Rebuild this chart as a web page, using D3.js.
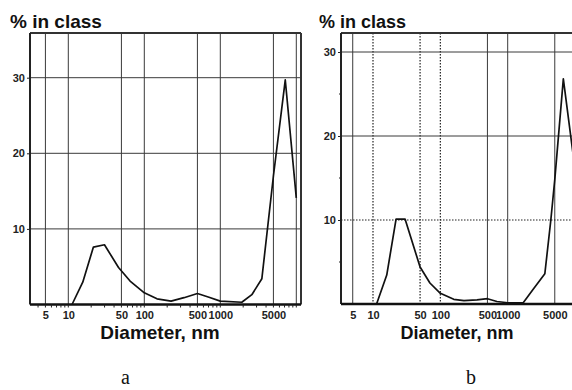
<!DOCTYPE html>
<html>
<head>
<meta charset="utf-8">
<script src="https://cdn.jsdelivr.net/npm/d3@7"></script>
<style>
  body { margin: 0; background: #fff; }
  svg { display: block; }
  .tick text { font-family: "Liberation Sans", Arial, sans-serif; font-weight: bold; font-size: 11px; fill: #222; }
</style>
</head>
<body>
<div id="chart"></div>
<script>
// particle size distributions, two samples (a, b)
const sizesA = [11.2, 15.5, 21.4, 29.9, 45.8, 65, 100, 147, 225, 333, 500, 694, 1000, 1920, 2600, 3520, 5000, 7160, 10000];
const pctA = [0, 2.95, 7.6, 7.9, 4.9, 3.1, 1.55, 0.75, 0.45, 0.9, 1.45, 1.0, 0.45, 0.3, 1.3, 3.4, 17, 29.7, 14.1];

const sizesB = [11.3, 16, 22, 30, 50, 70, 100, 158, 224, 350, 500, 692, 1000, 1700, 2390, 3560, 4370, 5000, 6700, 10000];
const pctB = [0, 3.45, 10.1, 10.1, 4.4, 2.5, 1.27, 0.56, 0.4, 0.5, 0.63, 0.3, 0.15, 0.15, 1.75, 3.6, 10, 14.8, 26.8, 16];

const xTickLabels = [5, 10, 50, 100, 500, 1000, 5000];
const yTickLabels = [10, 20, 30];
const panelNames = ['a', 'b'];

const width = 572, height = 390;

const svg = d3.select('#chart').append('svg')
  .attr('width', width)
  .attr('height', height);

const panels = [
  {
    name: panelNames[0], sizes: sizesA, pct: pctA,
    box: { left: 30, right: 301, top: 33, bottom: 304.5 },
    xr: [68.3, 220.3], yr: [304.5, 77.7],
    solidX: [5, 10, 50, 100, 500, 1000, 5000, 10000], dottedX: [],
    solidY: [10, 20, 30], dottedY: [],
    minorX: true, minorY: [],
    titleX: 10, titleSize: 19, xlabX: 160, xlabSize: 19
  },
  {
    name: panelNames[1], sizes: sizesB, pct: pctB,
    box: { left: 341, right: 600, top: 33, bottom: 304 },
    xr: [373, 507.7], yr: [304, 52],
    solidX: [5, 500, 1000, 5000], dottedX: [10, 50, 100],
    solidY: [20, 30], dottedY: [10],
    minorX: false, minorY: [5, 15, 25],
    titleX: 319, titleSize: 18, xlabX: 457, xlabSize: 18
  }
];

panels.forEach((p, i) => {
  const g = svg.append('g');
  const b = p.box;

  const x = d3.scaleLog().domain([10, 1000]).range(p.xr);
  const y = d3.scaleLinear().domain([0, 30]).range(p.yr);

  const clipId = 'clip' + i;
  g.append('clipPath').attr('id', clipId)
    .append('rect')
    .attr('x', b.left).attr('y', b.top)
    .attr('width', b.right - b.left).attr('height', b.bottom - b.top);

  // grid
  g.selectAll('.vs').data(p.solidX).enter().append('line')
    .attr('x1', d => x(d)).attr('x2', d => x(d))
    .attr('y1', b.top).attr('y2', b.bottom)
    .attr('stroke', '#3a3a3a').attr('stroke-width', 1);
  g.selectAll('.vd').data(p.dottedX).enter().append('line')
    .attr('x1', d => x(d)).attr('x2', d => x(d))
    .attr('y1', b.top).attr('y2', b.bottom)
    .attr('stroke', '#222').attr('stroke-width', 1.2)
    .attr('stroke-dasharray', '1.5,1.5');
  g.selectAll('.hs').data(p.solidY).enter().append('line')
    .attr('x1', b.left).attr('x2', b.right)
    .attr('y1', d => y(d)).attr('y2', d => y(d))
    .attr('stroke', '#3a3a3a').attr('stroke-width', 1);
  g.selectAll('.hd').data(p.dottedY).enter().append('line')
    .attr('x1', b.left).attr('x2', b.right)
    .attr('y1', d => y(d)).attr('y2', d => y(d))
    .attr('stroke', '#222').attr('stroke-width', 1.2)
    .attr('stroke-dasharray', '1.5,1.5');

  // frame
  g.append('line').attr('x1', b.left).attr('x2', b.right).attr('y1', b.top).attr('y2', b.top)
    .attr('stroke', '#333').attr('stroke-width', 2);
  g.append('line').attr('x1', b.left).attr('x2', b.left).attr('y1', b.top).attr('y2', b.bottom)
    .attr('stroke', '#222').attr('stroke-width', 2);
  g.append('line').attr('x1', b.right).attr('x2', b.right).attr('y1', b.top).attr('y2', b.bottom)
    .attr('stroke', '#333').attr('stroke-width', 2);

  // distribution line
  const line = d3.line()
    .x((d, k) => x(p.sizes[k]))
    .y(d => y(d));
  g.append('path')
    .datum(p.pct)
    .attr('clip-path', `url(#${clipId})`)
    .attr('fill', 'none')
    .attr('stroke', '#111')
    .attr('stroke-width', 1.7)
    .attr('stroke-linejoin', 'round')
    .attr('d', line);

  // bottom axis line
  g.append('line').attr('x1', b.left).attr('x2', b.right).attr('y1', b.bottom).attr('y2', b.bottom)
    .attr('stroke', '#111').attr('stroke-width', 2.4);

  // minor log ticks below axis
  if (p.minorX) {
    const lo = x.invert(b.left), hi = x.invert(b.right);
    const minor = [];
    for (let e = 0; e <= 4; e++) {
      for (let m = 1; m <= 9; m++) {
        const v = m * Math.pow(10, e);
        if (v >= lo && v <= hi) minor.push(v);
      }
    }
    g.selectAll('.mt').data(minor).enter().append('line')
      .attr('x1', d => x(d)).attr('x2', d => x(d))
      .attr('y1', b.bottom).attr('y2', b.bottom + 3)
      .attr('stroke', '#222').attr('stroke-width', 1);
  }

  // minor y ticks
  g.selectAll('.my').data(p.minorY).enter().append('line')
    .attr('x1', b.left - 2).attr('x2', b.left + 1)
    .attr('y1', d => y(d)).attr('y2', d => y(d))
    .attr('stroke', '#222').attr('stroke-width', 1);

  // x tick labels
  const xAxis = g.append('g')
    .attr('transform', `translate(0,${b.bottom})`)
    .call(d3.axisBottom(x).tickValues(xTickLabels).tickFormat(d3.format('d')).tickSize(0).tickPadding(7));
  xAxis.select('.domain').remove();

  // y tick labels
  const yAxis = g.append('g')
    .attr('transform', `translate(${b.left},0)`)
    .call(d3.axisLeft(y).tickValues(yTickLabels).tickSize(3).tickPadding(2));
  yAxis.select('.domain').remove();
  yAxis.selectAll('.tick line').attr('stroke', '#222');

  // titles
  g.append('text')
    .attr('x', p.titleX).attr('y', 28)
    .attr('font-family', '"Liberation Sans", Arial, sans-serif')
    .attr('font-weight', 'bold')
    .attr('font-size', p.titleSize)
    .attr('fill', '#111')
    .text('% in class');

  g.append('text')
    .attr('x', p.xlabX).attr('y', 339)
    .attr('text-anchor', 'middle')
    .attr('font-family', '"Liberation Sans", Arial, sans-serif')
    .attr('font-weight', 'bold')
    .attr('font-size', p.xlabSize)
    .attr('fill', '#111')
    .text('Diameter, nm');
});

// panel letters
svg.selectAll('.letter').data(panelNames).enter().append('text')
  .attr('x', (d, i) => i === 0 ? 125.5 : 471)
  .attr('y', 384)
  .attr('text-anchor', 'middle')
  .attr('font-family', '"Liberation Serif", "DejaVu Serif", serif')
  .attr('font-size', 20)
  .attr('fill', '#111')
  .text(d => d);
</script>
</body>
</html>
